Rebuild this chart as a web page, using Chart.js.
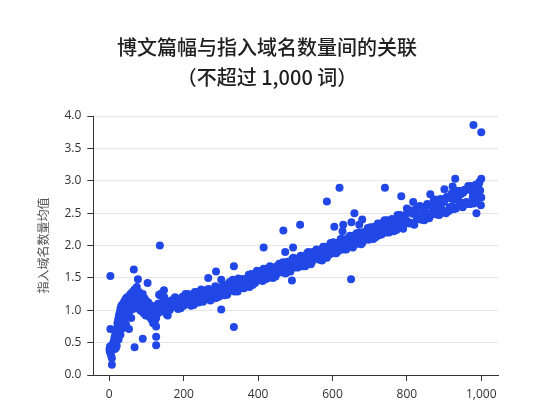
<!DOCTYPE html>
<html>
<head>
<meta charset="utf-8">
<script src="https://cdn.jsdelivr.net/npm/chart.js@4.4.1/dist/chart.umd.min.js"></script>
<style>
  html, body { margin: 0; padding: 0; background: #fff; }
  #wrap { width: 536px; height: 400px; }
</style>
</head>
<body>
<div id="wrap"><canvas id="linksChart" width="536" height="400"></canvas></div>
<script>
// 博文篇幅（词数）与指入域名数量均值
var titleLines = ["博文篇幅与指入域名数量间的关联", "（不超过 1,000 词）"];
var yTitle = "指入域名数量均值";
var xTicks = [0, 200, 400, 600, 800, 1000];
var yTicks = [0, 0.5, 1, 1.5, 2, 2.5, 3, 3.5, 4];

// 0 - 45 词
var earlyPoints = [
    [1,0.41],[1,0.38],[2,0.44],[2,0.35],[3,0.42],[4,0.40],[5,0.37],[5,0.30],[6,0.45],[7,0.26],
    [7,0.16],[8,0.40],[9,0.43],[10,0.48],[11,0.42],[12,0.52],[13,0.46],[14,0.58],[15,0.50],[16,0.62],
    [17,0.55],[18,0.68],[19,0.60],[20,0.72],[21,0.66],[22,0.80],[23,0.74],[24,0.86],[25,0.78],[26,0.92],
    [27,0.84],[28,0.96],[29,0.90],[30,1.02],[31,0.88],[32,1.06],[33,0.95],[34,1.08],[35,0.98],[36,1.04],
    [37,1.10],[38,0.92],[39,1.12],[40,1.05],[20,0.45],[25,0.55],[30,0.62],[35,0.72],[15,0.40],[18,0.42],
    [22,0.60],[28,0.70],[33,0.80],[38,0.85],[42,0.90],[45,0.78]
];

// 40 - 160 词
var clusterPoints = [
    [42,1.15],[44,0.98],[45,1.18],[46,1.08],[48,0.90],[48,1.20],[50,1.12],[51,1.02],[52,0.94],[54,1.22],
    [55,1.10],[56,1.00],[57,1.25],[58,1.16],[59,0.88],[60,1.20],[61,1.08],[62,1.28],[63,1.12],[64,1.02],
    [65,1.18],[66,1.24],[67,1.10],[68,1.32],[69,1.15],[70,1.05],[71,1.20],[72,1.26],[73,1.12],[74,1.36],
    [75,1.08],[76,1.18],[77,1.22],[78,1.14],[79,1.04],[80,1.28],[81,1.10],[82,1.18],[83,1.00],[84,1.12],
    [85,1.22],[86,1.06],[87,1.15],[88,0.98],[89,1.10],[90,1.25],[91,1.04],[92,1.12],[93,0.95],[94,1.08],
    [95,1.18],[96,1.02],[97,1.10],[98,0.92],[99,1.06],[100,1.14],[101,1.00],[102,1.08],[103,0.96],[104,1.04],
    [105,1.12],[106,0.98],[107,1.06],[108,0.90],[109,1.02],[110,1.08],[111,0.95],[112,1.04],[113,0.86],[114,1.00],
    [115,1.06],[116,0.92],[117,1.02],[118,0.80],[119,0.98],[120,1.05],[121,0.90],[122,1.00],[123,0.84],[124,0.96],
    [125,1.04],[126,0.88],[127,1.00],[128,0.94],[129,1.06],[130,1.00],[131,1.10],[132,0.96],[133,1.04],[134,1.24],
    [135,1.02],[136,1.08],[137,0.98],[138,1.06],[139,1.22],[140,1.04],[142,1.10],[144,1.00],[146,1.08],[148,1.20],
    [150,1.04],[152,1.10],[154,0.94],[156,1.06],[157,0.92],[158,1.12]
];

// 160 - 1000 词，主带（第一组）
var bandLengthsA = [
    160,165,170,175,180,185,190,195,200,205, 210,215,220,225,230,235,240,245,250,255,
    260,265,270,275,280,285,290,295,300,305, 310,315,320,325,330,335,340,345,350,355,
    360,365,370,375,380,385,390,395,400,405, 410,415,420,425,430,435,440,445,450,455,
    460,465,470,475,480,485,490,495,500,505, 510,515,520,525,530,535,540,545,550,555,
    560,565,570,575,580,585,590,595,600,605, 610,615,620,625,630,635,640,645,650,655,
    660,665,670,675,680,685,690,695,700,705, 710,715,720,725,730,735,740,745,750,755,
    760,765,770,775,780,785,790,795,800,805, 810,815,820,825,830,835,840,845,850,855,
    860,865,870,875,880,885,890,895,900,905, 910,915,920,925,930,935,940,945,950,955,
    960,965,970,975,980,985,990,995,1000
];
var bandValuesA = [
    1.12,1.03,1.11,1.18,1.08,1.02,1.17,1.13,1.07,1.25, 1.11,1.23,1.07,1.21,1.28,1.18,1.12,1.27,1.23,1.17,
    1.31,1.20,1.27,1.17,1.32,1.37,1.25,1.21,1.33,1.29, 1.23,1.37,1.31,1.44,1.30,1.39,1.45,1.29,1.44,1.38,
    1.48,1.37,1.48,1.55,1.43,1.39,1.55,1.50,1.60,1.47, 1.56,1.64,1.48,1.62,1.55,1.66,1.50,1.62,1.68,1.58,
    1.72,1.59,1.69,1.57,1.75,1.70,1.66,1.81,1.66,1.78, 1.73,1.84,1.68,1.82,1.74,1.90,1.81,1.75,1.89,1.81,
    1.92,1.78,1.90,1.98,1.86,1.81,1.97,2.04,1.89,1.99, 1.88,2.04,1.96,2.10,1.94,2.04,2.11,1.99,2.10,1.97,
    2.13,2.19,2.05,2.14,2.04,2.21,2.13,2.27,2.11,2.23, 2.10,2.27,2.23,2.16,2.34,2.23,2.39,2.20,2.34,2.26,
    2.41,2.22,2.37,2.47,2.30,2.38,2.26,2.46,2.38,2.52, 2.35,2.49,2.32,2.56,2.45,2.61,2.40,2.54,2.46,2.64,
    2.42,2.62,2.52,2.71,2.48,2.61,2.72,2.54,2.67,2.50, 2.74,2.59,2.80,2.56,2.72,2.84,2.61,2.79,2.59,2.86,
    2.67,2.92,2.64,2.84,2.65,2.94,2.78,2.98,2.74
];

// 160 - 1000 词，主带（第二组）
var bandLengthsB = [
    162,167,172,177,182,187,192,197,202,207, 212,217,222,227,232,237,242,247,252,257,
    262,267,272,277,282,287,292,297,302,307, 312,317,322,327,332,337,342,347,352,357,
    362,367,372,377,382,387,392,397,402,407, 412,417,422,427,432,437,442,447,452,457,
    462,467,472,477,482,487,492,497,502,507, 512,517,522,527,532,537,542,547,552,557,
    562,567,572,577,582,587,592,597,602,607, 612,617,622,627,632,637,642,647,652,657,
    662,667,672,677,682,687,692,697,702,707, 712,717,722,727,732,737,742,747,752,757,
    762,767,772,777,782,787,792,797,802,807, 812,817,822,827,832,837,842,847,852,857,
    862,867,872,877,882,887,892,897,902,907, 912,917,922,927,932,937,942,947,952,957,
    962,967,972,977,982,987,992,997
];
var bandValuesB = [
    1.00,1.15,1.09,1.20,1.05,1.15,1.03,1.21,1.16,1.10, 1.25,1.14,1.22,1.08,1.20,1.28,1.16,1.32,1.13,1.27,
    1.17,1.33,1.15,1.30,1.25,1.19,1.35,1.31,1.24,1.39, 1.38,1.24,1.42,1.32,1.47,1.29,1.37,1.49,1.34,1.48,
    1.34,1.48,1.40,1.36,1.56,1.51,1.42,1.61,1.48,1.60, 1.45,1.56,1.64,1.50,1.68,1.55,1.65,1.52,1.60,1.72,
    1.60,1.74,1.57,1.74,1.66,1.60,1.79,1.67,1.77,1.66, 1.82,1.70,1.81,1.68,1.88,1.76,1.71,1.90,1.80,1.94,
    1.81,1.93,1.77,1.86,1.98,1.94,1.86,1.92,2.05,1.88, 2.04,1.92,2.10,1.96,2.06,1.94,2.06,2.15,2.00,2.15,
    2.02,2.13,2.20,2.02,2.19,2.09,2.17,2.09,2.28,2.16, 2.29,2.13,2.34,2.26,2.17,2.32,2.23,2.39,2.20,2.38,
    2.26,2.38,2.24,2.33,2.47,2.29,2.45,2.35,2.53,2.34, 2.54,2.34,2.52,2.41,2.59,2.40,2.55,2.39,2.61,2.50,
    2.63,2.48,2.69,2.55,2.64,2.47,2.57,2.71,2.53,2.75, 2.53,2.73,2.61,2.79,2.57,2.73,2.84,2.66,2.82,2.64,
    2.86,2.64,2.92,2.75,2.89,2.67,2.94,2.85
];

// 离群点
var outlierPoints = [
    [3,1.53],[3,0.71],[53,0.71],[68,0.43],[90,0.56],[126,0.59],[126,0.46],[126,0.75],[66,1.63],[77,1.48],
    [103,1.42],[136,2.00],[147,1.31],[140,1.26],[266,1.50],[287,1.60],[301,1.47],[301,1.01],[335,1.68],[335,0.74],
    [415,1.97],[468,2.23],[473,1.90],[491,1.46],[494,1.97],[513,2.32],[585,2.68],[605,2.29],[619,2.89],[627,2.22],
    [629,2.32],[650,1.48],[651,2.36],[659,2.50],[672,2.32],[680,2.40],[741,2.89],[785,2.76],[800,2.57],[817,2.67],
    [863,2.79],[901,2.87],[923,2.91],[930,3.03],[979,3.86],[1000,3.75],[1000,3.03],[999,2.62],[987,2.50],[994,2.96]
];

var allPoints = earlyPoints.concat(clusterPoints, outlierPoints)
    .map(function (p) { return { x: p[0], y: p[1] }; });
bandLengthsA.forEach(function (len, i) {
    allPoints.push({ x: len, y: bandValuesA[i] });
});
bandLengthsB.forEach(function (len, i) {
    allPoints.push({ x: len, y: bandValuesB[i] });
});

var ctx = document.getElementById("linksChart").getContext("2d");
var linksChart = new Chart(ctx, {
    type: "scatter",
    data: {
        datasets: [{
            data: allPoints,
            backgroundColor: "#2147e6",
            borderWidth: 0,
            pointRadius: 4,
            pointHoverRadius: 4
        }]
    },
    options: {
        responsive: false,
        animation: false,
        layout: { padding: { left: 36, right: 38, bottom: 0 } },
        plugins: {
            legend: { display: false },
            tooltip: { enabled: false },
            title: {
                display: true,
                text: titleLines,
                color: "#1e1e1e",
                font: { family: "'Noto Sans CJK SC Medium', 'Noto Sans CJK SC'", size: 20, weight: "500", lineHeight: 1.5 },
                padding: { top: 32, bottom: 24 }
            }
        },
        scales: {
            x: {
                type: "linear",
                min: -43,
                max: 1045,
                afterBuildTicks: function (scale) {
                    scale.ticks = xTicks.map(function (v) { return { value: v }; });
                },
                afterFit: function (scale) {
                    scale.height = 25;
                },
                grid: { drawOnChartArea: false, tickLength: 6, tickColor: "#333" },
                border: { display: true, color: "#333", width: 1 },
                ticks: {
                    color: "#333",
                    padding: 6,
                    font: { family: "'Open Sans'", size: 12 }
                }
            },
            y: {
                min: 0,
                max: 4,
                afterBuildTicks: function (scale) {
                    scale.ticks = yTicks.map(function (v) { return { value: v }; });
                },
                title: {
                    display: true,
                    text: yTitle,
                    color: "#555",
                    font: { family: "'Noto Sans CJK SC'", size: 12 },
                    padding: { top: 0, bottom: 8 }
                },
                grid: { color: "#e6e6e6", tickLength: 6, tickColor: "#333" },
                border: { display: true, color: "#333", width: 1 },
                ticks: {
                    color: "#333",
                    padding: 6,
                    font: { family: "'Open Sans'", size: 12 },
                    callback: function (v) { return Number(v).toFixed(1); }
                }
            }
        }
    }
});
</script>
</body>
</html>
